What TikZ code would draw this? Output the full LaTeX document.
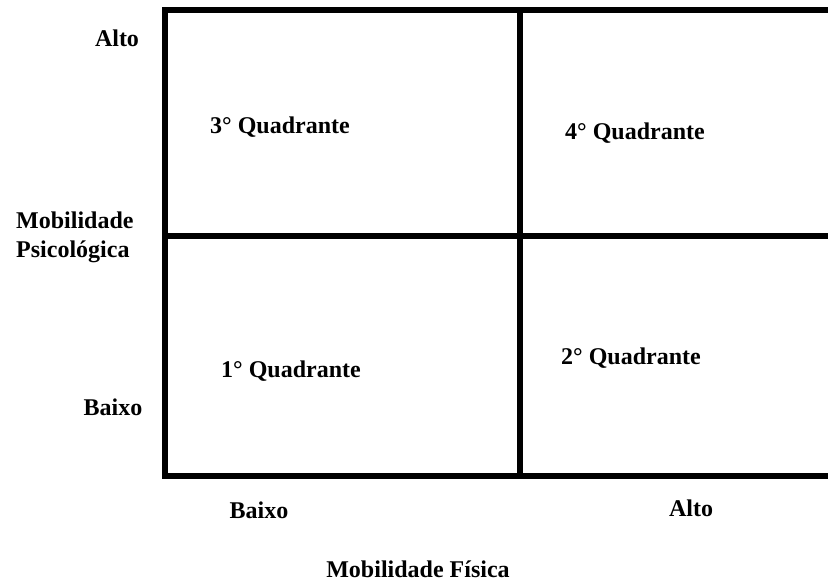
\documentclass[tikz,border=0pt]{standalone}
\usepackage{fontspec}
\setmainfont{Liberation Serif}
\usetikzlibrary{positioning}

\tikzset{
	eixo/.style={line width=6pt},
	rotulo/.style={inner sep=0pt, font=\fontsize{24}{29}\selectfont\bfseries, anchor=base},
}

\begin{document}
\begin{tikzpicture}[x=1pt, y=-1pt]
	\useasboundingbox[fill=white] (0,0) rectangle (828,587);

	% cantos da matriz
	\coordinate (no) at (165,10);
	\coordinate (ne) at (828,10);
	\coordinate (so) at (165,476);
	\coordinate (se) at (828,476);
	\coordinate (mn) at (520,10);
	\coordinate (ms) at (520,476);
	\coordinate (mo) at (165,236);
	\coordinate (ml) at (828,236);

	\draw[eixo] (ne) -- (no) -- (so) -- (se);
	\draw[eixo] (mn) -- (ms);
	\draw[eixo] (mo) -- (ml);

	% quadrantes
	\node[rotulo] (q3) at (280,133) {3° Quadrante};
	\node[rotulo] (q4) at (635,139) {4° Quadrante};
	\node[rotulo] (q1) at (291,377) {1° Quadrante};
	\node[rotulo] (q2) at (631,364) {2° Quadrante};

	% eixo vertical
	\node[rotulo] (altoY) at (117,46) {Alto};
	\node[rotulo, anchor=north west, align=left] (mobP) at (16,212) {Mobilidade\\Psicológica};
	\node[rotulo] (baixoY) at (113,415) {Baixo};

	% eixo horizontal
	\node[rotulo] (baixoX) at (259,518) {Baixo};
	\node[rotulo] (altoX) at (691,516) {Alto};
	\node[rotulo] (mobF) at (418,577) {Mobilidade Física};
\end{tikzpicture}
\end{document}
